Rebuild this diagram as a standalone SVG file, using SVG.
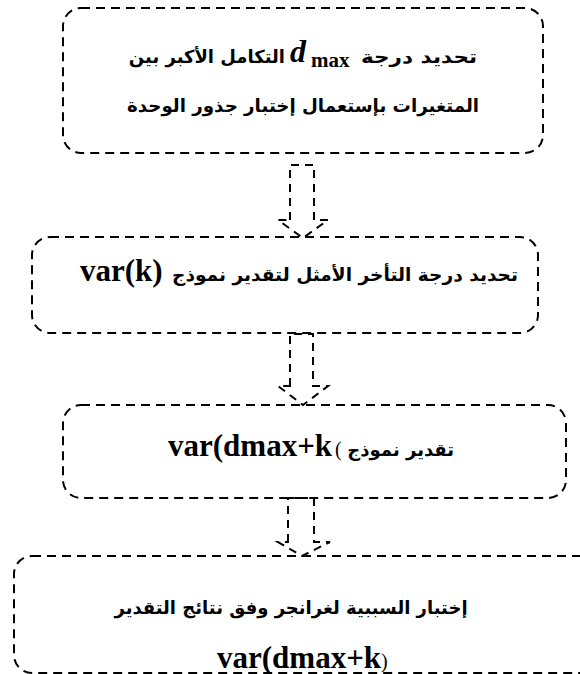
<svg xmlns="http://www.w3.org/2000/svg" width="580" height="674" viewBox="0 0 580 674">
<style>
.box{fill:none;stroke:#000;stroke-width:2;stroke-dasharray:9 6}
.arr{fill:none;stroke:#000;stroke-width:2;stroke-dasharray:8 6;stroke-linejoin:miter}
.ar{font-family:"DejaVu Sans",sans-serif;font-weight:bold;font-size:18px;fill:#000;direction:rtl}
.la{font-family:"Liberation Serif","Times New Roman",serif;font-weight:bold;font-size:31px;fill:#000}
.sm{font-family:"Liberation Serif",serif;font-weight:normal;font-size:20px;fill:#000}
</style>
<rect width="580" height="674" fill="#fff"/>
<g id="connectors">
<path class="arr" d="M290,220 L290,165 L314,165 L314,220 L328,220 L303,238 L278,220 Z"/>
<path class="arr" d="M290,386 L290,334 L313,334 L313,386 L328,386 L303,405 L278,386 Z"/>
<path class="arr" d="M288,542 L288,498 L314,498 L314,542 L330,542 L302,556 L278,542 Z"/>
</g>
<g id="node1">
<rect class="box" x="63" y="8" width="480" height="145" rx="18"/>
<text class="ar" x="419" y="63" text-anchor="middle" font-size="19" textLength="116" lengthAdjust="spacingAndGlyphs">تحديد درجة</text>
<text x="290" y="62" font-family="Liberation Serif,serif" font-weight="bold" font-style="italic" font-size="32">d</text>
<text x="311" y="67" font-family="Liberation Serif,serif" font-weight="bold" font-size="21">max</text>
<text class="ar" x="285" y="63" text-anchor="start" font-size="17.7">التكامل الأكبر بين</text>
<text class="ar" x="303" y="112" text-anchor="middle" textLength="352" lengthAdjust="spacingAndGlyphs">المتغيرات بإستعمال إختبار جذور الوحدة</text>
</g>
<g id="node2">
<rect class="box" x="32" y="237" width="506" height="96" rx="18"/>
<text class="la" x="80" y="281">var(k)</text>
<text class="ar" x="345" y="281" text-anchor="middle" textLength="346" lengthAdjust="spacingAndGlyphs">تحديد درجة التأخر الأمثل لتقدير نموذج</text>
</g>
<g id="node3">
<rect class="box" x="63" y="405" width="503" height="93" rx="18"/>
<text class="la" x="168" y="456">var(dmax+k</text>
<text class="sm" x="335" y="456" font-size="18">(</text>
<text class="ar" x="454" y="456" text-anchor="start" font-size="17">تقدير نموذج</text>
</g>
<g id="node4">
<rect class="box" x="14" y="556" width="590" height="117" rx="18"/>
<text class="ar" x="291" y="614" text-anchor="middle" font-size="16.7">إختبار السببية لغرانجر وفق نتائج التقدير</text>
<text class="la" x="217" y="668">var(dmax+k<tspan class="sm">)</tspan></text>
</g>
</svg>
